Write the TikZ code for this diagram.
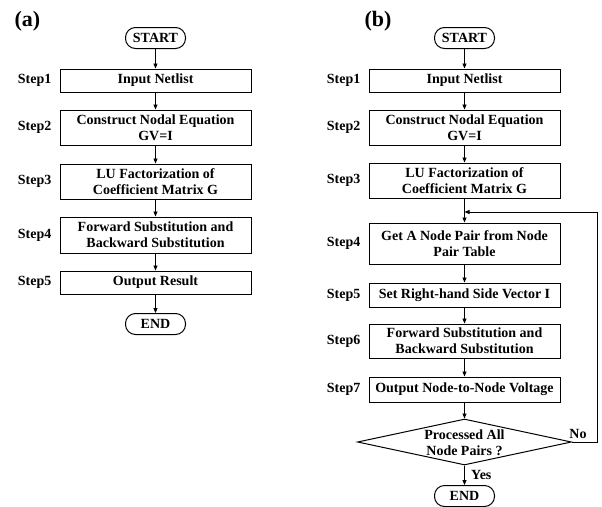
\documentclass[tikz,border=0pt]{standalone}
\usepackage{fontspec}
\setmainfont{Liberation Serif}
\usetikzlibrary{arrows.meta,shapes.geometric,calc}
\begin{document}
\begin{tikzpicture}[x=1pt,y=-1pt,
  font=\bfseries\fontsize{14}{16}\selectfont,
  proc/.style={draw, line width=1pt, rectangle, minimum width=191pt, inner sep=0pt, align=center},
  term/.style={draw, line width=1pt, rectangle, rounded corners=10pt, minimum width=60pt, minimum height=21pt, inner sep=0pt},
  lab/.style={anchor=east, inner sep=0pt},
  panel/.style={inner sep=0pt, font=\bfseries\fontsize{22}{24}\selectfont},
  arr/.style={draw, line width=0.8pt, -{Triangle[length=5pt,width=4pt]}}]
\useasboundingbox (0,0) rectangle (602,506);

% ---------- panel (a) ----------
\node[panel] (pa) at (27.5,21.5) {(a)};
\node[term] (as) at (155.5,38) {START};
\node[proc, minimum height=23pt] (a1) at (155.5,80.5) {Input Netlist};
\node[proc, minimum height=35pt] (a2) at (155.5,127.5) {Construct Nodal Equation\\GV=I};
\node[proc, minimum height=35pt] (a3) at (155.5,181.5) {LU Factorization of\\Coefficient Matrix G};
\node[proc, minimum height=36pt] (a4) at (155.5,235) {Forward Substitution and\\Backward Substitution};
\node[proc, minimum height=23pt] (a5) at (155.5,282.5) {Output Result};
\node[term] (ae) at (155.5,324) {END};

\node[lab] (la1) at ($(a1.west)+(-8,0)$) {Step1};
\node[lab] (la2) at ($(a2.west)+(-8,0)$) {Step2};
\node[lab] (la3) at ($(a3.west)+(-8,0)$) {Step3};
\node[lab] (la4) at ($(a4.west)+(-8,0)$) {Step4};
\node[lab] (la5) at ($(a5.west)+(-8,0)$) {Step5};

\draw[arr] (as) -- (a1);
\draw[arr] (a1) -- (a2);
\draw[arr] (a2) -- (a3);
\draw[arr] (a3) -- (a4);
\draw[arr] (a4) -- (a5);
\draw[arr] (a5) -- (ae);

% ---------- panel (b) ----------
\node[panel] (pb) at (378,21.5) {(b)};
\node[term] (bs) at (464.5,38) {START};
\node[proc, minimum height=23pt] (b1) at (464.5,80.5) {Input Netlist};
\node[proc, minimum height=35pt] (b2) at (464.5,127.5) {Construct Nodal Equation\\GV=I};
\node[proc, minimum height=35pt] (b3) at (464.5,180.5) {LU Factorization of\\Coefficient Matrix G};
\node[proc, minimum height=41pt] (b4) at (464.5,243.5) {Get A Node Pair from Node\\Pair Table};
\node[proc, minimum height=24pt] (b5) at (464.5,295) {Set Right-hand Side Vector I};
\node[proc, minimum height=34pt] (b6) at (464.5,341) {Forward Substitution and\\Backward Substitution};
\node[proc, minimum height=25pt] (b7) at (464.5,389.5) {Output Node-to-Node Voltage};
\node[draw, line width=1pt, diamond, minimum width=214pt, minimum height=46pt, inner sep=0pt] (bd) at (464.5,442) {};
\node[align=center, inner sep=0pt] (bdt) at (464.5,443) {Processed All\\Node Pairs ?};
\node[term] (be) at (464.5,496) {END};

\node[lab] (lb1) at ($(b1.west)+(-8,0)$) {Step1};
\node[lab] (lb2) at ($(b2.west)+(-8,0)$) {Step2};
\node[lab] (lb3) at ($(b3.west)+(-8,0)$) {Step3};
\node[lab] (lb4) at ($(b4.west)+(-8,0)$) {Step4};
\node[lab] (lb5) at ($(b5.west)+(-8,0)$) {Step5};
\node[lab] (lb6) at ($(b6.west)+(-8,0)$) {Step6};
\node[lab] (lb7) at ($(b7.west)+(-8,0)$) {Step7};

\coordinate (join) at (464.5,212);
\coordinate (corner) at (597,442);

\draw[arr] (bs) -- (b1);
\draw[arr] (b1) -- (b2);
\draw[arr] (b2) -- (b3);
\draw[arr] (b3) -- (b4);
\draw[arr] (b4) -- (b5);
\draw[arr] (b5) -- (b6);
\draw[arr] (b6) -- (b7);
\draw[arr] (b7) -- (bd.north);
\draw[arr] (bd.south) -- (be);
\draw[arr] (bd.east) -- (corner) |- (join);

\node[inner sep=0pt] (no) at (578,434) {No};
\node[anchor=west, inner sep=0pt] (yes) at (471,475) {Yes};
\end{tikzpicture}
\end{document}
